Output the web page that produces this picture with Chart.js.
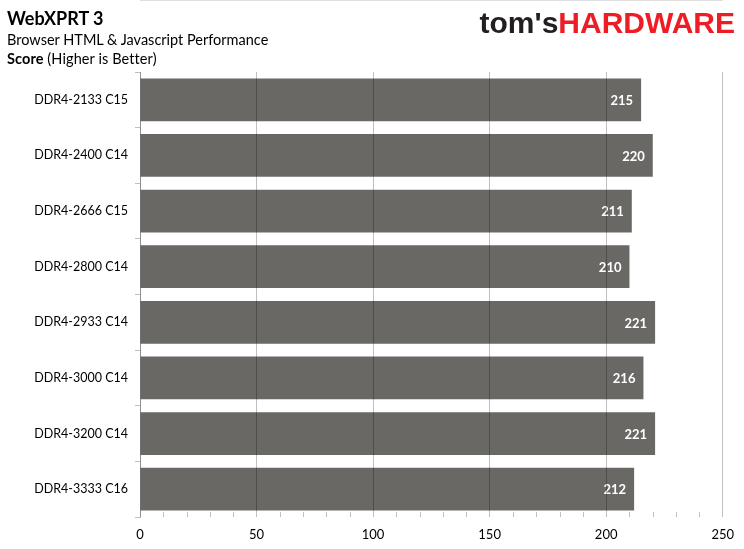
<!DOCTYPE html>
<html>
<head>
<meta charset="utf-8">
<script src="https://cdn.jsdelivr.net/npm/chart.js@4/dist/chart.umd.min.js"></script>
<style>
  body { margin: 0; background: #fff; }
  #wrap { position: relative; width: 744px; height: 549px; font-family: Lato, sans-serif; }
  #chart { position: absolute; left: 0; top: 0; }
  .head { position: absolute; left: 7px; color: #000; white-space: nowrap; }
  #title { top: 7px; font-size: 18px; font-weight: bold; }
  #sub { top: 31px; font-size: 14.5px; }
  #axis { top: 50px; font-size: 14.5px; letter-spacing: 0.1px; }
  #logo { position: absolute; right: 9px; top: 6px; font-family: "Liberation Sans", Arial, sans-serif;
          font-weight: bold; font-size: 30px; white-space: nowrap; }
  #logo .t { color: #231f20; }
  #logo .h { color: #ee1c25; }
</style>
</head>
<body>
<div id="wrap">
  <canvas id="chart" width="744" height="549"></canvas>
  <div class="head" id="title">WebXPRT 3</div>
  <div class="head" id="sub">Browser HTML &amp; Javascript Performance</div>
  <div class="head" id="axis"><b>Score</b> (Higher is Better)</div>
  <div id="logo"><span class="t">tom's</span><span class="h">HARDWARE</span></div>
</div>
<script>
// chart data
const memoryKits = ['DDR4-2133 C15', 'DDR4-2400 C14', 'DDR4-2666 C15', 'DDR4-2800 C14',
                    'DDR4-2933 C14', 'DDR4-3000 C14', 'DDR4-3200 C14', 'DDR4-3333 C16'];
const scores = [215, 220, 211, 210, 221, 216, 221, 212];
const scoreTicks = [0, 50, 100, 150, 200, 250];

// white value labels at the end of each bar
const valueLabels = {
    id: 'valueLabels',
    afterDatasetsDraw(chart) {
        const ctx = chart.ctx;
        const meta = chart.getDatasetMeta(0);
        ctx.save();
        ctx.font = 'bold 13px Lato';
        ctx.fillStyle = '#fff';
        ctx.textAlign = 'right';
        ctx.textBaseline = 'middle';
        meta.data.forEach((bar, i) => {
            ctx.fillText(scores[i], bar.x - 8, bar.y + 1);
        });
        ctx.restore();
    }
};

// small minor ticks along the bottom axis, pointing up
const minorTicks = {
    id: 'minorTicks',
    afterDraw(chart) {
        const ctx = chart.ctx;
        const x = chart.scales.x;
        const bottom = chart.chartArea.bottom;
        ctx.save();
        ctx.strokeStyle = '#bfbfbf';
        ctx.lineWidth = 1;
        for (let v = 10; v < 250; v += 10) {
            if (v % 50 === 0) continue;
            const px = Math.round(x.getPixelForValue(v)) + 0.5;
            ctx.beginPath();
            ctx.moveTo(px, bottom - 5);
            ctx.lineTo(px, bottom);
            ctx.stroke();
        }
        ctx.restore();
    }
};

const ctx = document.getElementById('chart').getContext('2d');
new Chart(ctx, {
    type: 'bar',
    data: {
        labels: memoryKits,
        datasets: [{
            data: scores,
            backgroundColor: '#6a6865',
            barPercentage: 0.77,
            categoryPercentage: 1.0
        }]
    },
    options: {
        indexAxis: 'y',
        responsive: false,
        animation: false,
        layout: { padding: { top: 72, right: 19, left: 0, bottom: 0 } },
        plugins: { legend: { display: false }, tooltip: { enabled: false } },
        scales: {
            x: {
                min: 0,
                max: 250,
                afterBuildTicks: (scale) => { scale.ticks = scoreTicks.map(v => ({ value: v })); },
                afterFit: (scale) => { scale.height = 32; },
                grid: { color: 'rgba(0,0,0,0.25)', drawTicks: false, z: 1 },
                border: { color: '#bfbfbf' },
                ticks: { color: '#000', font: { family: 'Lato', size: 13 }, padding: 10 }
            },
            y: {
                afterFit: (scale) => { scale.width = 140; },
                grid: { offset: true, drawOnChartArea: false, tickLength: 5, color: '#bfbfbf' },
                border: { color: '#bfbfbf' },
                ticks: { color: '#000', font: { family: 'Lato', size: 12.5 }, padding: 7 }
            }
        }
    },
    plugins: [valueLabels, minorTicks]
});
</script>
</body>
</html>
